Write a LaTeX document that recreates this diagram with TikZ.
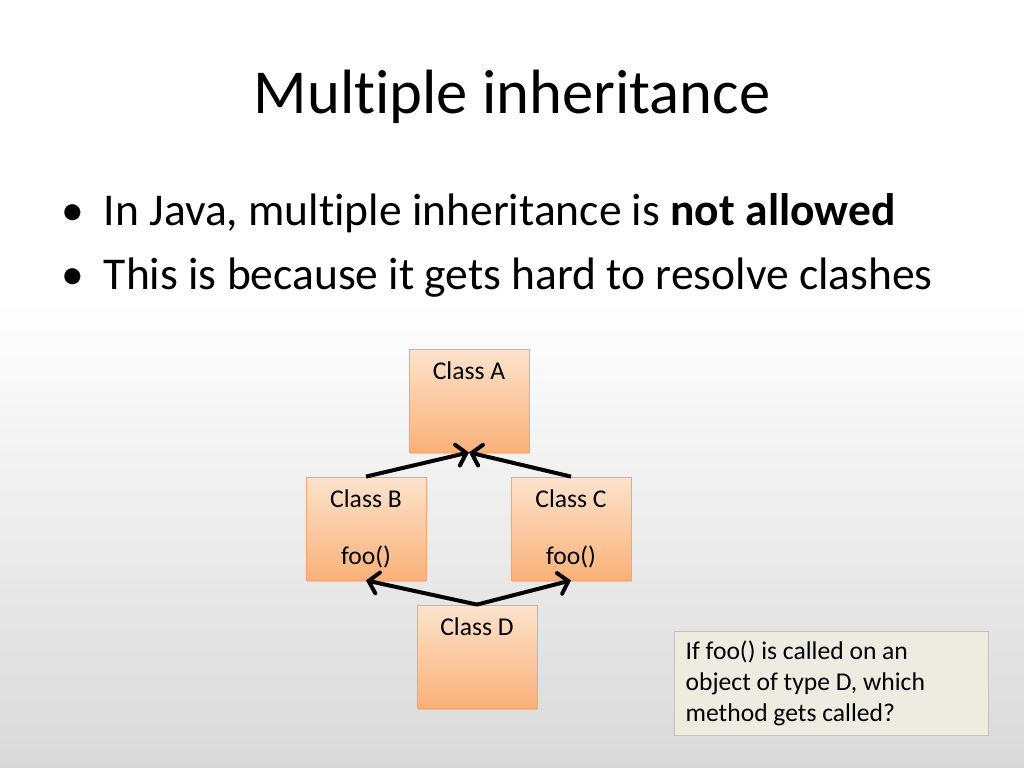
\documentclass[tikz,border=0pt]{standalone}
\usepackage{fontspec}
\setmainfont{Carlito}[Ligatures=NoCommon]
\usetikzlibrary{arrows.meta,shadows}
\definecolor{boxtop}{HTML}{FDE3CD}
\definecolor{boxbot}{HTML}{F9B17A}
\definecolor{boxline}{HTML}{F4A772}
\definecolor{notefill}{HTML}{EEECE1}
\definecolor{noteline}{HTML}{C4C2B4}
\definecolor{bgbot}{HTML}{D9D9D9}
\tikzset{
  cls/.style={draw=boxline, line width=0.6pt, top color=boxtop, bottom color=boxbot,
    minimum width=84.4pt, minimum height=72.4pt, inner sep=0pt,
    drop shadow={shadow xshift=0.8pt, shadow yshift=-1.2pt, opacity=0.25}},
  clstext/.style={font=\fontsize{18}{21.6}\selectfont},
  inh/.style={line width=2.8pt, -{Straight Barb[length=6.5pt,width=15pt,line cap=round]}},
  note/.style={draw=noteline, line width=0.6pt, fill=notefill, anchor=north west,
    minimum width=220.8pt, minimum height=73.1pt, inner xsep=7.5pt,
    text width=205pt, align=flush left, font=\fontsize{18}{21.6}\selectfont},
  bullet/.style={anchor=west, font=\fontsize{32}{38}\selectfont},
}
\begin{document}
\begin{tikzpicture}[x=0.703125pt, y=-0.703125pt]
\useasboundingbox (0,0) rectangle (1024,768);
\fill[white] (0,0) rectangle (1024,768);
\shade[top color=white, bottom color=bgbot] (0,300) rectangle (1024,768);

\node[font=\fontsize{44}{52}\selectfont] (title) at (512,97) {Multiple inheritance};
\node[bullet] (b1) at (56,213)
  {\makebox[30.2pt][l]{•}In Java, multiple inheritance is \textbf{not allowed}};
\node[bullet] (b2) at (56,278)
  {\makebox[30.2pt][l]{•}This is because it gets hard to resolve clashes};

\node[cls, label={[clstext, anchor=north, yshift=-6pt]north:Class A}] (A) at (469,400.5) {};
\node[cls, label={[clstext, anchor=north, yshift=-6pt]north:Class B},
           label={[clstext, anchor=south, yshift=5pt]south:foo()}] (B) at (366,528.5) {};
\node[cls, label={[clstext, anchor=north, yshift=-6pt]north:Class C},
           label={[clstext, anchor=south, yshift=5pt]south:foo()}] (C) at (571,528.5) {};
\node[cls, label={[clstext, anchor=north, yshift=-6pt]north:Class D}] (D) at (477,656.5) {};

\draw[inh] (B.north) -- (A.south);
\draw[inh] (C.north) -- (A.south);
\draw[inh] (D.north) -- (B.south);
\draw[inh] (D.north) -- (C.south);

\node[note] (N) at (674,631) {If foo() is called on an\\object of type D, which\\method gets called?};
\end{tikzpicture}
\end{document}
